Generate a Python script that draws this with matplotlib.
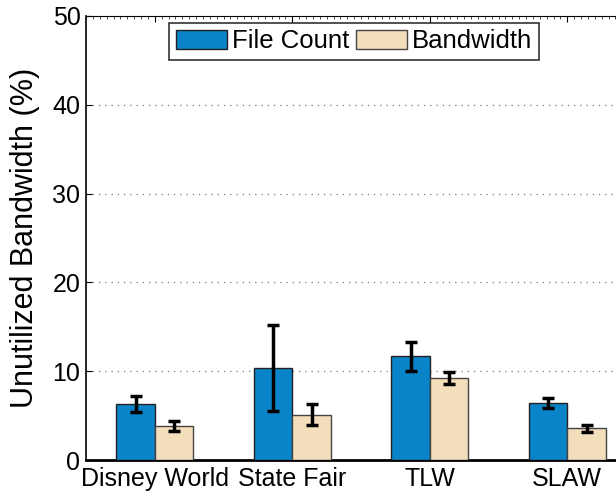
import numpy as np
import matplotlib
matplotlib.use('Agg')
import matplotlib.pyplot as plt
from matplotlib.ticker import MultipleLocator

plt.rcParams['font.family'] = ['Liberation Sans', 'DejaVu Sans']

scenarios = ['Disney World', 'State Fair', 'TLW', 'SLAW']
file_count = [6.27, 10.32, 11.67, 6.38]
file_count_err = [0.9, 4.85, 1.65, 0.56]
bandwidth = [3.83, 5.1, 9.27, 3.57]
bandwidth_err = [0.58, 1.2, 0.68, 0.37]

x = np.arange(1, len(scenarios) + 1)
w = 0.28

fig = plt.figure(figsize=(6.16, 4.96), dpi=100)
ax = fig.add_axes([86 / 616, 36 / 496, 550 / 616, 444 / 496])

err_kw = dict(ecolor='black', elinewidth=2.5, capsize=4, capthick=2.5)
ax.bar(x - w / 2, file_count, w, yerr=file_count_err, color='#0A84C8',
       edgecolor='#222222', linewidth=1, label='File Count', error_kw=err_kw, zorder=3)
ax.bar(x + w / 2, bandwidth, w, yerr=bandwidth_err, color='#F3DEBB',
       edgecolor='#444444', linewidth=1, label='Bandwidth', error_kw=err_kw, zorder=3)

ax.set_xlim(0.5, 4.5)
ax.set_ylim(0, 50)
ax.set_yticks([0, 10, 20, 30, 40, 50])
ax.set_xticks(x)
ax.set_xticklabels(scenarios)
ax.set_ylabel('Unutilized Bandwidth (%)', fontsize=22, labelpad=9)

ax.tick_params(axis='both', labelsize=18, direction='in', length=4, width=0.8)
ax.tick_params(axis='x', bottom=False, top=True, pad=5)
ax.tick_params(axis='y', pad=4)
ax.xaxis.set_minor_locator(MultipleLocator(0.05))
ax.tick_params(axis='x', which='minor', bottom=False, top=True, direction='in', length=2, width=0.5)

for y in [10, 20, 30, 40]:
    ax.axhline(y, color='#777777', linestyle=(0, (1, 4)), linewidth=0.9, zorder=1)

ax.spines['bottom'].set_linewidth(2)
ax.spines['left'].set_linewidth(1.2)
ax.spines['top'].set_linewidth(0.8)

leg = ax.legend(loc='upper center', bbox_to_anchor=(354 / 616, 1 - 23 / 496),
                bbox_transform=fig.transFigure, ncol=2, fontsize=18.5,
                frameon=True, fancybox=False, edgecolor='black',
                handlelength=2.0, handleheight=0.8, handletextpad=0.2,
                columnspacing=0.25, borderpad=0.25, borderaxespad=0)
leg.get_frame().set_linewidth(1.2)

plt.savefig('out.png', dpi=100)
